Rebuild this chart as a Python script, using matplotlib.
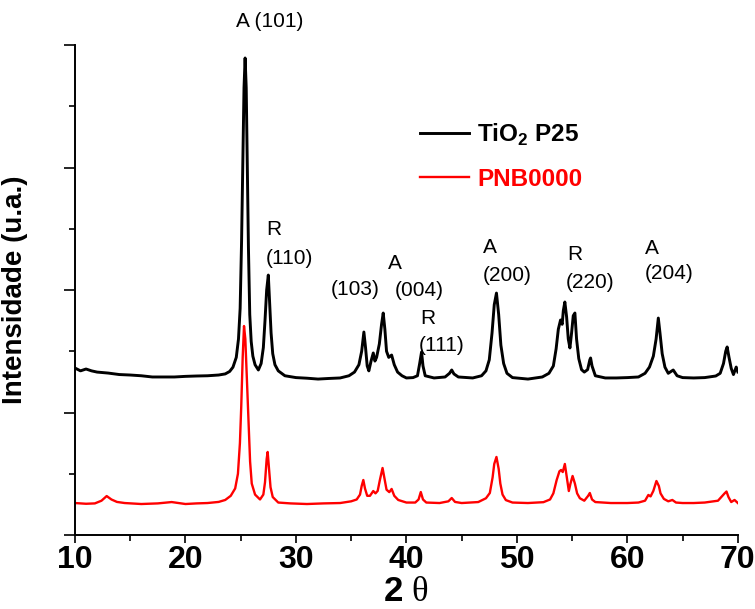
import matplotlib
matplotlib.use('Agg')
import matplotlib.pyplot as plt
from matplotlib.ticker import MultipleLocator, NullFormatter

plt.rcParams['font.family'] = ['Liberation Sans', 'DejaVu Sans']
plt.rcParams['mathtext.fontset'] = 'custom'
plt.rcParams['mathtext.rm'] = 'Liberation Serif'
plt.rcParams['mathtext.bf'] = 'Liberation Sans:bold'

# XRD pattern of TiO2 P25
tio2_2theta = [10.0, 10.5, 11.0, 11.5, 12.0, 13.0, 14.0, 15.0, 16.0, 17.0, 18.0, 19.0,
               20.0, 21.0, 22.0, 23.0, 23.6, 24.0, 24.3, 24.6, 24.8, 24.95, 25.08, 25.2,
               25.3, 25.4, 25.5, 25.6, 25.7, 25.82, 25.95, 26.1, 26.3, 26.6, 26.85,
               27.05, 27.2, 27.35, 27.5, 27.62, 27.75, 27.9, 28.1, 28.4, 29.0, 30.0,
               31.0, 32.0, 33.0, 34.0, 34.8, 35.3, 35.7, 35.95, 36.15, 36.3, 36.45,
               36.6, 36.8, 37.0, 37.15, 37.3, 37.55, 37.75, 37.9, 38.05, 38.2, 38.4,
               38.66, 38.9, 39.2, 39.6, 40.0, 40.6, 41.0, 41.2, 41.37, 41.5, 41.7,
               42.5, 43.5, 43.9, 44.1, 44.3, 44.7, 46.0, 46.8, 47.2, 47.5, 47.75,
               47.95, 48.15, 48.35, 48.55, 48.8, 49.1, 49.6, 51.0, 52.3, 52.9, 53.3,
               53.55, 53.75, 53.95, 54.1, 54.2, 54.34, 54.5, 54.65, 54.8, 54.95, 55.1,
               55.25, 55.4, 55.6, 55.85, 56.1, 56.4, 56.6, 56.67, 56.8, 57.1, 58.0,
               59.0, 60.0, 61.0, 61.6, 62.0, 62.35, 62.6, 62.8, 62.95, 63.15, 63.4,
               63.7, 64.15, 64.5, 65.0, 66.0, 67.0, 68.0, 68.4, 68.7, 68.9, 69.03,
               69.2, 69.4, 69.6, 69.85, 70.0]
tio2_int = [1363, 1340, 1355, 1340, 1330, 1322, 1310, 1306, 1300, 1290, 1290, 1290,
            1295, 1298, 1300, 1306, 1315, 1335, 1370, 1450, 1600, 1850, 2400, 3100,
            3650, 3894, 3650, 3000, 2350, 1800, 1580, 1460, 1390, 1347, 1400,
            1530, 1750, 2000, 2122, 1900, 1650, 1480, 1390, 1340, 1300, 1285,
            1280, 1273, 1278, 1282, 1300, 1330, 1390, 1500, 1657, 1530, 1380,
            1340, 1420, 1486, 1420, 1450, 1560, 1720, 1812, 1680, 1500, 1450,
            1469, 1390, 1330, 1300, 1282, 1285, 1300, 1400, 1494, 1380, 1300,
            1282, 1290, 1320, 1347, 1315, 1290, 1282, 1300, 1340, 1430, 1650,
            1880, 1975, 1800, 1550, 1400, 1320, 1285, 1273, 1290, 1320, 1380,
            1520, 1680, 1755, 1720, 1830, 1902, 1780, 1600, 1527, 1650, 1790,
            1812, 1600, 1440, 1350, 1330, 1350, 1430, 1445, 1380, 1300, 1282,
            1282, 1285, 1290, 1320, 1371, 1460, 1600, 1771, 1650, 1480, 1370,
            1320, 1347, 1300, 1285, 1282, 1285, 1298, 1320, 1400, 1500, 1535,
            1450, 1360, 1310, 1371, 1331]

# XRD pattern of PNB0000
pnb_2theta = [10.0, 11.0, 11.8, 12.4, 12.87, 13.3, 13.8, 14.5, 16.0, 17.5, 18.75, 20.0,
              21.0, 22.0, 23.0, 23.6, 24.1, 24.5, 24.75, 24.93, 25.05, 25.18, 25.3,
              25.42, 25.55, 25.7, 25.85, 26.0, 26.3, 26.75, 27.05, 27.2, 27.35, 27.44,
              27.55, 27.7, 27.9, 28.4, 29.5, 31.0, 32.5, 34.0, 35.0, 35.5, 35.8,
              35.95, 36.1, 36.25, 36.45, 36.7, 37.0, 37.2, 37.4, 37.6, 37.84, 38.0,
              38.2, 38.45, 38.66, 38.9, 39.26, 40.0, 40.8, 41.1, 41.3, 41.5, 41.8,
              43.0, 43.8, 44.1, 44.4, 45.0, 46.5, 47.2, 47.55, 47.8, 47.95, 48.15,
              48.35, 48.5, 48.7, 49.0, 49.6, 51.0, 52.4, 53.0, 53.3, 53.6, 53.85,
              54.0, 54.15, 54.34, 54.5, 54.7, 54.85, 55.04, 55.25, 55.45, 55.7, 56.1,
              56.45, 56.6, 56.8, 57.1, 58.5, 60.0, 61.0, 61.6, 61.9, 62.1, 62.35,
              62.63, 62.85, 63.0, 63.3, 63.7, 64.07, 64.4, 65.0, 66.0, 67.0, 68.2,
              68.6, 68.8, 68.97, 69.15, 69.4, 69.7, 70.0]
pnb_int = [261, 255, 258, 280, 318, 290, 270, 261, 253, 258, 269, 253,
           258, 261, 270, 286, 320, 380, 500, 751, 1050, 1450, 1706,
           1600, 1300, 950, 600, 420, 330, 290, 330, 430, 620, 678,
           560, 390, 310, 265, 258, 253, 258, 261, 275, 290, 330,
           400, 449, 380, 320, 320, 359, 340, 360, 450, 547, 470,
           370, 350, 376, 320, 286, 265, 265, 290, 351, 290, 265,
           261, 275, 302, 270, 261, 269, 300, 343, 470, 580, 637,
           540, 420, 330, 285, 265, 261, 268, 290, 340, 449, 520,
           531, 514, 580, 480, 359, 420, 482, 420, 340, 300, 280,
           320, 343, 290, 269, 261, 261, 265, 280, 327, 315, 360,
           441, 400, 340, 295, 275, 286, 265, 261, 261, 265, 280,
           320, 340, 355, 310, 269, 286, 261]

# peak labels: (text, 2theta, intensity, alignment)
peak_labels = [
    ('A (101)', 27.65, 4188, 'center'),
    ('R', 27.29, 2490, 'left'), ('(110)', 27.29, 2261, 'left'),
    ('(103)', 33.17, 2008, 'left'),
    ('A', 38.33, 2220, 'left'), ('(004)', 38.96, 2000, 'left'),
    ('R', 41.22, 1771, 'left'), ('(111)', 41.13, 1551, 'left'),
    ('A', 46.92, 2343, 'left'), ('(200)', 46.92, 2122, 'left'),
    ('R', 54.52, 2286, 'left'), ('(220)', 54.43, 2065, 'left'),
    ('A', 61.58, 2335, 'left'), ('(204)', 61.58, 2131, 'left'),
]

fig = plt.figure(figsize=(7.55, 6.09), dpi=100)
ax = fig.add_axes([0.0993, 0.1215, 0.878, 0.8046])

ax.plot(tio2_2theta, tio2_int, color='black', lw=2.1, label='TiO$_\\mathbf{2}$ P25')
ax.plot(pnb_2theta, pnb_int, color='red', lw=1.7, label='PNB0000')

for txt, x, y, ha in peak_labels:
    ax.text(x, y, txt, ha=ha, va='center', fontsize=15, clip_on=False)

ax.set_xlim(10, 70)
ax.set_ylim(0, 4000)
ax.xaxis.set_major_locator(MultipleLocator(10))
ax.xaxis.set_minor_locator(MultipleLocator(5))
ax.yaxis.set_major_locator(MultipleLocator(1000))
ax.yaxis.set_minor_locator(MultipleLocator(500))
ax.yaxis.set_major_formatter(NullFormatter())

for s in ['top', 'right']:
    ax.spines[s].set_visible(False)
for s in ['left', 'bottom']:
    ax.spines[s].set_linewidth(1.4)

ax.tick_params(axis='y', which='major', direction='out', length=8, width=1.2)
ax.tick_params(axis='y', which='minor', direction='out', length=4.5, width=1.2)
ax.tick_params(axis='x', which='major', direction='out', length=6, width=1.2, pad=1)
ax.tick_params(axis='x', which='minor', direction='out', length=4.5, width=1.2)
for lab in ax.get_xticklabels():
    lab.set_family(['Liberation Sans Narrow', 'Liberation Sans'])
    lab.set_fontweight('bold')
    lab.set_fontsize(23)

ax.set_xlabel('2 $\\mathrm{\\theta}$', fontsize=25, fontweight='bold', labelpad=0)
ax.set_ylabel('Intensidade (u.a.)', fontsize=20, fontweight='bold', labelpad=22)

leg = ax.legend(loc='upper left', bbox_to_anchor=(420 / 755, (609 - 122) / 609),
                bbox_transform=fig.transFigure, frameon=False, fontsize=17.5,
                handlelength=2.0, handletextpad=0.35, labelspacing=0.8,
                borderpad=0, borderaxespad=0)
for t, c in zip(leg.get_texts(), ['black', 'red']):
    t.set_color(c)
    t.set_fontweight('bold')

fig.savefig('out.png', dpi=100)
